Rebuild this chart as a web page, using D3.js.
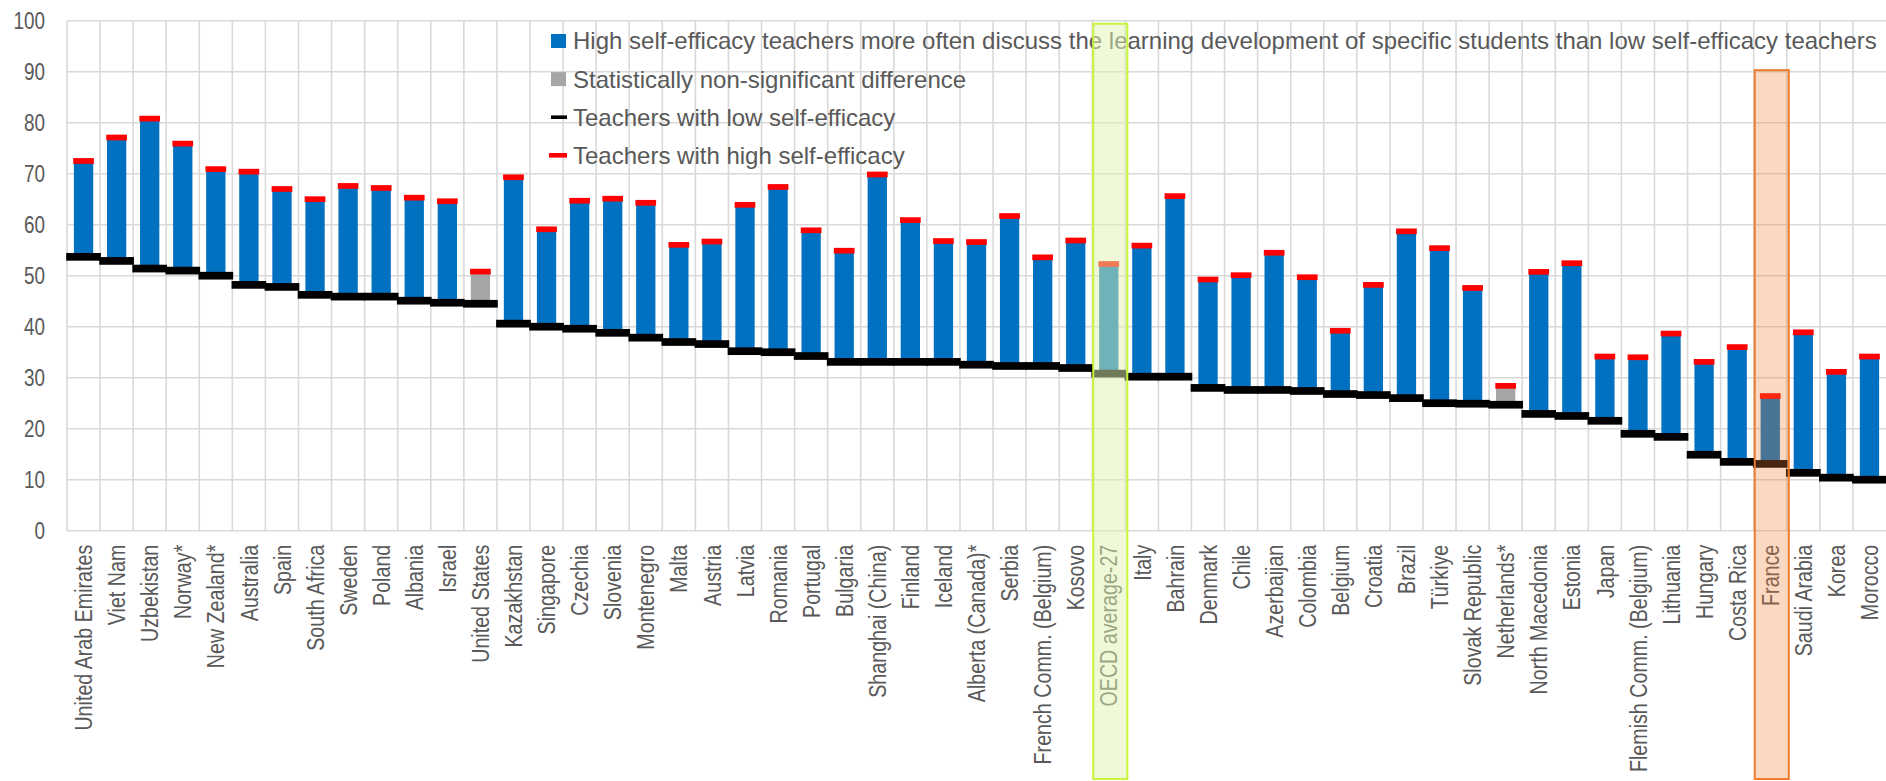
<!DOCTYPE html>
<html>
<head>
<meta charset="utf-8">
<script src="https://cdn.jsdelivr.net/npm/d3@7"></script>
<style>
  body { margin: 0; background: #fff; }
  svg { display: block; font-family: "Liberation Sans", Arial, sans-serif; }
</style>
</head>
<body>
<div id="wrapper"></div>
<script>
// countries, sorted by share among teachers with low self-efficacy
const countries = ["United Arab Emirates", "Viet Nam", "Uzbekistan", "Norway*", "New Zealand*", "Australia",
    "Spain", "South Africa", "Sweden", "Poland", "Albania", "Israel", "United States", "Kazakhstan",
    "Singapore", "Czechia", "Slovenia", "Montenegro", "Malta", "Austria", "Latvia", "Romania", "Portugal",
    "Bulgaria", "Shanghai (China)", "Finland", "Iceland", "Alberta (Canada)*", "Serbia",
    "French Comm. (Belgium)", "Kosovo", "OECD average-27", "Italy", "Bahrain", "Denmark", "Chile",
    "Azerbaijan", "Colombia", "Belgium", "Croatia", "Brazil", "Türkiye", "Slovak Republic", "Netherlands*",
    "North Macedonia", "Estonia", "Japan", "Flemish Comm. (Belgium)", "Lithuania", "Hungary", "Costa Rica",
    "France", "Saudi Arabia", "Korea", "Morocco"];

const lowValues = [53.7, 52.9, 51.4, 51.0, 50.0, 48.2, 47.8, 46.25, 45.9, 45.9, 45.1, 44.7, 44.5, 40.6,
    40.0, 39.6, 38.8, 37.85, 37.0, 36.6, 35.2, 35.0, 34.25, 33.1, 33.1, 33.1, 33.1, 32.55, 32.3,
    32.3, 31.9, 30.8, 30.2, 30.2, 28.0, 27.6, 27.6, 27.4, 26.8, 26.6, 26.0, 25.0, 24.9, 24.7,
    22.9, 22.5, 21.55, 19.0, 18.4, 14.9, 13.5, 13.1, 11.35, 10.4, 10.0];

const highValues = [72.5, 77.1, 80.8, 75.9, 70.9, 70.4, 67.0, 65.0, 67.6, 67.2, 65.3, 64.6, 50.8, 69.3,
    59.1, 64.7, 65.1, 64.3, 56.05, 56.7, 63.9, 67.4, 58.9, 54.9, 69.85, 60.9, 56.8, 56.6, 61.7,
    53.6, 56.9, 52.3, 55.9, 65.6, 49.25, 50.1, 54.5, 49.7, 39.2, 48.2, 58.7, 55.4, 47.6, 28.4,
    50.75, 52.45, 34.15, 34.0, 38.65, 33.1, 36.0, 26.4, 38.9, 31.15, 34.15];

// difference not statistically significant
const nonSignificant = ["United States", "Netherlands*"];

const yTicks = [0, 10, 20, 30, 40, 50, 60, 70, 80, 90, 100];

const legendLabels = [
    "High self-efficacy teachers more often discuss the learning development of specific students than low self-efficacy teachers",
    "Statistically non-significant difference",
    "Teachers with low self-efficacy",
    "Teachers with high self-efficacy"
];

// highlighted columns and the value where their frame starts
const highlightNames = ["OECD average-27", "France"];
const highlightTops = [99.4, 90.3];

const data = countries.map((c, i) => ({ country: c, low: lowValues[i], high: highValues[i] }));

const dimension = {
    width: 1886,
    height: 781,
    margin: { top: 20.7, left: 67, bottom: 250.3, right: 0 }
};

const textColor = "#595959";
const gridColor = "#D9D9D9";
const narrow = 0.82; // Arial Narrow look

const svg = d3.select("#wrapper").append("svg")
    .attr("width", dimension.width)
    .attr("height", dimension.height);

const xScaler = d3.scaleBand()
    .domain(countries)
    .range([dimension.margin.left, dimension.width - dimension.margin.right]);

const yScaler = d3.scaleLinear()
    .domain([0, 100])
    .range([dimension.height - dimension.margin.bottom, dimension.margin.top]);

// grid
const grid = svg.append("g");
grid.selectAll(".hgrid")
    .data(yTicks)
    .join("line")
    .attr("x1", dimension.margin.left)
    .attr("x2", dimension.width)
    .attr("y1", d => yScaler(d))
    .attr("y2", d => yScaler(d))
    .attr("stroke", gridColor)
    .attr("stroke-width", 1.6);

grid.selectAll(".vgrid")
    .data(countries)
    .join("line")
    .attr("x1", d => xScaler(d))
    .attr("x2", d => xScaler(d))
    .attr("y1", yScaler(100))
    .attr("y2", yScaler(0))
    .attr("stroke", gridColor)
    .attr("stroke-width", 1.6);

// y axis
const yAxis = svg.append("g")
    .attr("transform", `translate(${dimension.margin.left},0)`)
    .call(d3.axisLeft(yScaler).tickValues(yTicks).tickSize(0).tickPadding(0));
yAxis.select(".domain").remove();
yAxis.selectAll("text")
    .attr("font-size", 23)
    .attr("fill", textColor)
    .attr("font-family", "Liberation Sans, Arial, sans-serif")
    .attr("x", -22 / narrow)
    .attr("dy", "0.36em")
    .attr("transform", `scale(${narrow},1)`);

// x axis with rotated labels
const xAxis = svg.append("g")
    .attr("transform", `translate(0,${yScaler(0)})`)
    .call(d3.axisBottom(xScaler).tickSize(0).tickPadding(0));
xAxis.select(".domain").remove();
xAxis.selectAll("text")
    .attr("font-size", 24)
    .attr("fill", textColor)
    .attr("font-family", "Liberation Sans, Arial, sans-serif")
    .attr("text-anchor", "end")
    .attr("x", -14 / narrow)
    .attr("y", 0)
    .attr("dy", "0.36em")
    .attr("transform", `rotate(-90) scale(${narrow},1)`);

// bars from low to high
const barWidth = 19.3;
svg.append("g")
    .selectAll("rect")
    .data(data)
    .join("rect")
    .attr("x", d => xScaler(d.country) + xScaler.bandwidth() / 2 - barWidth / 2)
    .attr("width", barWidth)
    .attr("y", d => yScaler(d.high))
    .attr("height", d => yScaler(d.low) - yScaler(d.high))
    .attr("fill", d => nonSignificant.includes(d.country) ? "#A6A6A6" : "#0070C0");

// low markers
const lowW = 34.7, lowH = 7.7;
svg.append("g")
    .selectAll("rect")
    .data(data)
    .join("rect")
    .attr("x", d => xScaler(d.country) + xScaler.bandwidth() / 2 - lowW / 2)
    .attr("y", d => yScaler(d.low) - lowH / 2)
    .attr("width", lowW)
    .attr("height", lowH)
    .attr("fill", "#000");

// high markers
const highW = 20.7, highH = 5.7;
svg.append("g")
    .selectAll("rect")
    .data(data)
    .join("rect")
    .attr("x", d => xScaler(d.country) + xScaler.bandwidth() / 2 - highW / 2)
    .attr("y", d => yScaler(d.high) - highH / 2)
    .attr("width", highW)
    .attr("height", highH)
    .attr("fill", "#FF0000");

// legend
const legend = svg.append("g").attr("transform", "translate(551,41)");
const rowGap = 38.1;
const swatches = [
    { w: 15, h: 14, color: "#0070C0" },
    { w: 15, h: 14, color: "#A6A6A6" },
    { w: 16, h: 3.6, color: "#000" },
    { w: 18, h: 4.6, color: "#FF0000" }
];
legendLabels.forEach((label, i) => {
    const row = legend.append("g").attr("transform", `translate(0,${i * rowGap})`);
    row.append("rect")
        .attr("x", i == 3 ? -2 : 0)
        .attr("y", -swatches[i].h / 2)
        .attr("width", swatches[i].w)
        .attr("height", swatches[i].h)
        .attr("fill", swatches[i].color);
    row.append("text")
        .attr("x", 22)
        .attr("dy", "0.35em")
        .attr("font-size", 24)
        .attr("fill", textColor)
        .text(label);
});

// highlight frames on top
const highlightStyle = [
    { fill: "#E0F4B0", opacity: 0.5, stroke: "#C8F53A" },
    { fill: "#ED7D31", opacity: 0.3, stroke: "#ED7D31" }
];
highlightNames.forEach((name, i) => {
    svg.append("rect")
        .attr("x", xScaler(name) + 1)
        .attr("y", yScaler(highlightTops[i]))
        .attr("width", xScaler.bandwidth() + 1)
        .attr("height", dimension.height - 2 - yScaler(highlightTops[i]))
        .attr("fill", highlightStyle[i].fill)
        .attr("fill-opacity", highlightStyle[i].opacity)
        .attr("stroke", highlightStyle[i].stroke)
        .attr("stroke-width", 2);
});
</script>
</body>
</html>
